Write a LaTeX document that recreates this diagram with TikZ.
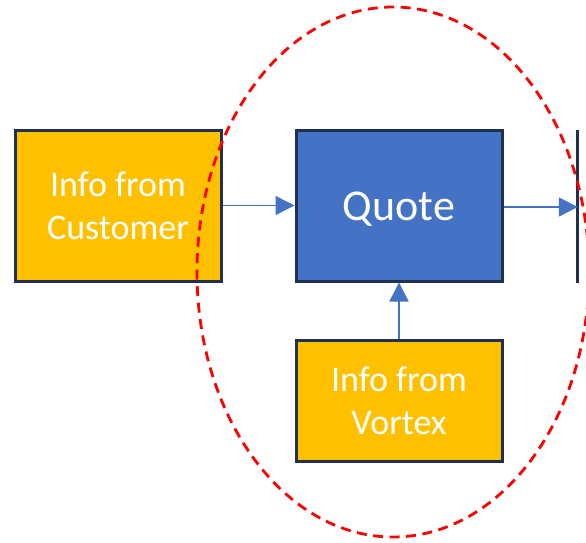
\documentclass[tikz,border=0pt]{standalone}
\usepackage{fontspec}
\setmainfont{Carlito}
\usetikzlibrary{arrows.meta}
\definecolor{gold}{HTML}{FFC000}
\definecolor{qblue}{HTML}{4472C4}
\definecolor{navy}{HTML}{1F3050}
\definecolor{ared}{HTML}{FF0000}
\begin{document}
\begin{tikzpicture}[x=1pt,y=-1pt,
  boxstyle/.style={draw=navy, line width=3pt, text=white, align=center, inner sep=0pt},
  infobox/.style={boxstyle, fill=gold, font=\fontsize{36}{43}\selectfont},
  quotebox/.style={boxstyle, fill=qblue, font=\fontsize{44}{52}\selectfont},
  flow/.style={draw=qblue, line width=1.5pt, -{Triangle[length=19pt,width=19pt]}},
  halo/.style={draw=ared, line width=2.8pt, dash pattern=on 10pt off 6.5pt}]
\useasboundingbox (0,0) rectangle (586,543);
\clip (0,0) rectangle (586,543);
\node[infobox, minimum width=206pt, minimum height=151pt] (cust) at (118,205.5) {Info from\\Customer};
\node[quotebox, minimum width=206pt, minimum height=151pt] (quote) at (399,205.5) {\raisebox{-4pt}[\height][\depth]{Quote}};
\node[infobox, minimum width=206pt, minimum height=121pt] (vortex) at (399,400.5) {Info from\\Vortex};
\node[minimum width=206pt, minimum height=153pt, inner sep=0pt] (next) at (681,206.5) {};
\draw[draw=navy, line width=3pt] (next.north west) -- (next.south west);
\draw[flow] (cust.east) -- (quote.west);
\draw[flow] (quote.east |- 0,207) -- (next.west |- 0,207);
\draw[flow] (vortex.north) -- (quote.south);
\draw[halo] (393,272) ellipse [x radius=196pt, y radius=265pt];
\end{tikzpicture}
\end{document}
